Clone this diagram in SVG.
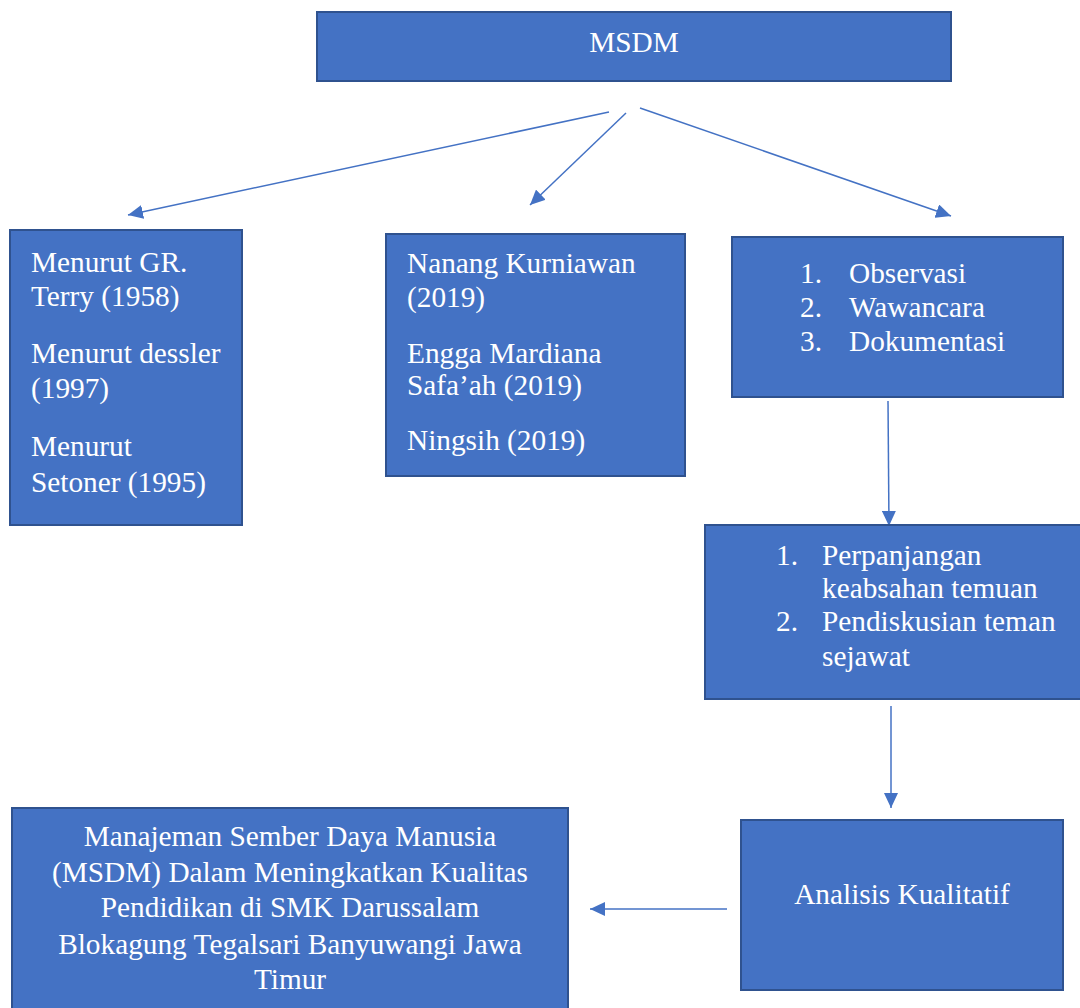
<svg xmlns="http://www.w3.org/2000/svg" width="1080" height="1008" viewBox="0 0 1080 1008">
<style>
.box{fill:#4472C4;stroke:#2F528F;stroke-width:2}
.t{font-family:"Liberation Serif","Times New Roman",serif;font-size:29.3px;fill:#FFFFFF}
.c{text-anchor:middle}
.con{stroke:#4472C4;stroke-width:1.5;fill:none;marker-end:url(#ah)}
</style>
<defs>
<marker id="ah" markerUnits="userSpaceOnUse" markerWidth="16" markerHeight="14" refX="15" refY="7" orient="auto">
<path d="M0,0 L15,7 L0,14 Z" fill="#4472C4"/>
</marker>
</defs>
<rect width="1080" height="1008" fill="#FFFFFF"/>
<g id="connectors">
<line class="con" x1="609" y1="112" x2="128" y2="215"/>
<line class="con" x1="626" y1="113" x2="530" y2="205"/>
<line class="con" x1="640" y1="108" x2="951" y2="216"/>
<line class="con" x1="888" y1="401" x2="889" y2="526"/>
<line class="con" x1="891" y1="706" x2="891" y2="808"/>
<line class="con" x1="727" y1="909" x2="590" y2="909"/>
</g>
<g id="msdm">
<rect class="box" x="317" y="12" width="634" height="69"/>
<text class="t c" x="634" y="52">MSDM</text>
</g>
<g id="teori">
<rect class="box" x="10" y="230" width="232" height="295"/>
<text class="t" x="31" y="272">Menurut GR.</text>
<text class="t" x="31" y="306">Terry (1958)</text>
<text class="t" x="31" y="363">Menurut dessler</text>
<text class="t" x="31" y="398">(1997)</text>
<text class="t" x="31" y="456">Menurut</text>
<text class="t" x="31" y="492">Setoner (1995)</text>
</g>
<g id="penelitian">
<rect class="box" x="386" y="234" width="299" height="242"/>
<text class="t" x="407" y="273">Nanang Kurniawan</text>
<text class="t" x="407" y="307">(2019)</text>
<text class="t" x="407" y="363">Engga Mardiana</text>
<text class="t" x="407" y="395">Safa’ah (2019)</text>
<text class="t" x="407" y="450">Ningsih (2019)</text>
</g>
<g id="metode">
<rect class="box" x="732" y="237" width="331" height="160"/>
<text class="t" x="800" y="283">1.</text>
<text class="t" x="849" y="283">Observasi</text>
<text class="t" x="800" y="317">2.</text>
<text class="t" x="849" y="317">Wawancara</text>
<text class="t" x="800" y="351">3.</text>
<text class="t" x="849" y="351">Dokumentasi</text>
</g>
<g id="keabsahan">
<rect class="box" x="705" y="525" width="385" height="174"/>
<text class="t" x="776" y="565">1.</text>
<text class="t" x="822" y="565">Perpanjangan</text>
<text class="t" x="822" y="598">keabsahan temuan</text>
<text class="t" x="776" y="631">2.</text>
<text class="t" x="822" y="631">Pendiskusian teman</text>
<text class="t" x="822" y="666">sejawat</text>
</g>
<g id="analisis">
<rect class="box" x="741" y="820" width="322" height="170"/>
<text class="t c" x="902" y="904">Analisis Kualitatif</text>
</g>
<g id="judul">
<rect class="box" x="12" y="808" width="556" height="215"/>
<text class="t c" x="290" y="846">Manajeman Sember Daya Manusia</text>
<text class="t c" x="290" y="882">(MSDM) Dalam Meningkatkan Kualitas</text>
<text class="t c" x="290" y="917">Pendidikan di SMK Darussalam</text>
<text class="t c" x="290" y="954">Blokagung Tegalsari Banyuwangi Jawa</text>
<text class="t c" x="290" y="989">Timur</text>
</g>
</svg>
